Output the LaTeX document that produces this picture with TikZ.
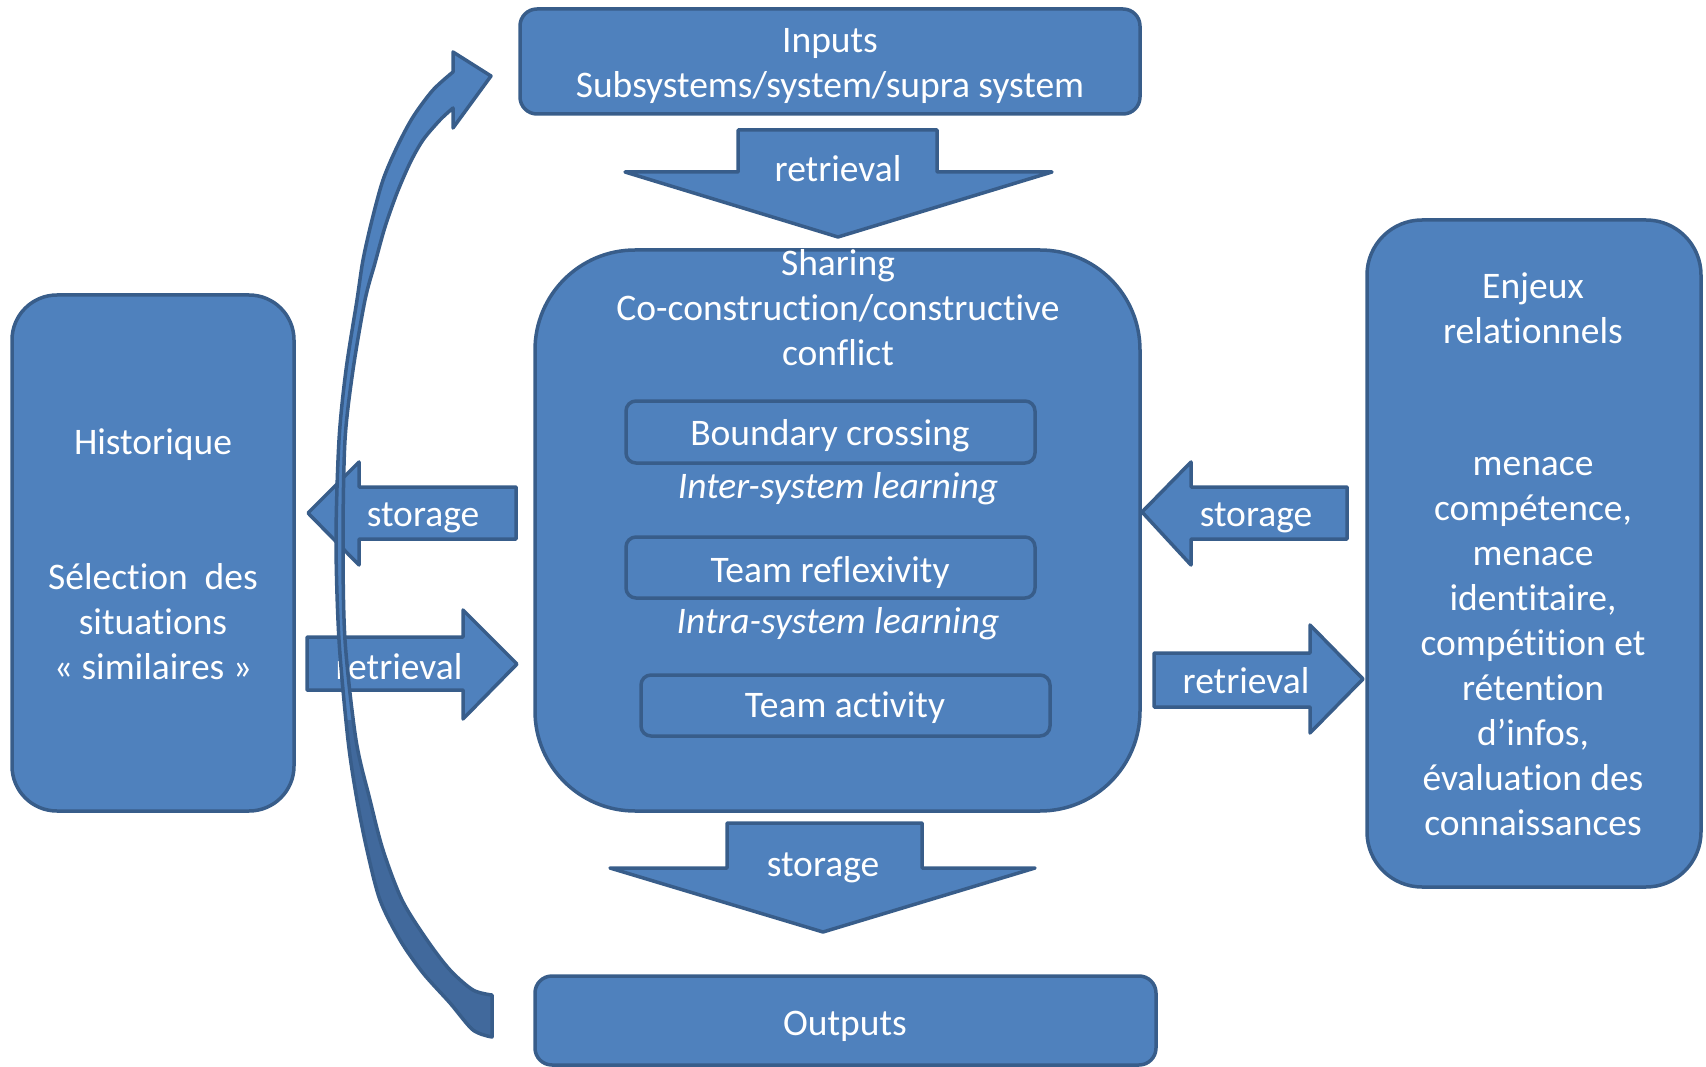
\documentclass[tikz,border=0pt]{standalone}
\usepackage{fontspec}
\setmainfont{Carlito}[Ligatures={NoCommon},Contextuals={NoAlternate}]
\definecolor{fillc}{HTML}{4F81BD}
\definecolor{linec}{HTML}{385D8A}
\definecolor{darkc}{HTML}{41699C}
\tikzset{
  shp/.style={fill=fillc, draw=linec, line width=3.5pt, line join=round},
  boxn/.style={shp, rectangle, inner sep=0pt},
  lbl/.style={text=white, font=\fontsize{37.5}{45}\selectfont, align=center, inner sep=0pt},
  ilbl/.style={lbl, font=\fontsize{37.5}{45}\selectfont\itshape},
}
\begin{document}
\begin{tikzpicture}[x=1pt,y=-1pt]
\useasboundingbox (0,0) rectangle (1706,1067);

% main boxes
\node[boxn, rounded corners=17, minimum width=620, minimum height=105] (inputs) at (830,61.5) {};
\node[boxn, rounded corners=100, minimum width=605, minimum height=561] (central) at (837.5,530.5) {};
\node[boxn, rounded corners=10, minimum width=409, minimum height=62] (bcross) at (830.5,432) {};
\node[boxn, rounded corners=10, minimum width=409, minimum height=61] (reflex) at (830.5,567.5) {};
\node[boxn, rounded corners=10, minimum width=409, minimum height=61] (activity) at (845.5,705.5) {};
\node[boxn, rounded corners=17, minimum width=621, minimum height=89] (outputs) at (845.5,1020.5) {};
\node[boxn, rounded corners=45, minimum width=282, minimum height=516] (hist) at (153,553) {};
\node[boxn, rounded corners=55, minimum width=334, minimum height=667] (enjeux) at (1534,553.5) {};

% block arrows
\path[shp] (738,130) -- (937,130) -- (937,172) -- (1052,172) -- (838,237) -- (625,172) -- (738,172) -- cycle;
\path[shp] (727,823) -- (922,823) -- (922,868) -- (1035,868) -- (823,932) -- (610,868) -- (727,868) -- cycle;
\path[shp] (516,487) -- (359,487) -- (359,462) -- (308,513) -- (359,565) -- (359,539) -- (516,539) -- cycle;
\path[shp] (307,637) -- (463,637) -- (463,610) -- (517,664) -- (463,719) -- (463,690) -- (307,690) -- cycle;
\path[shp] (1347,487) -- (1191,487) -- (1191,462) -- (1142,512) -- (1191,565) -- (1191,539) -- (1347,539) -- cycle;
\path[shp] (1154,653) -- (1310,653) -- (1310,625) -- (1363,679) -- (1310,733) -- (1310,707) -- (1154,707) -- cycle;

% texts
\node[lbl] (tinputs) at (830,66) {Inputs\\Subsystems/system/supra system};
\node[lbl] (tsharing) at (838,308) {Sharing\\Co-construction/constructive\\conflict};
\node[lbl] (tbcross) at (830,436) {Boundary crossing};
\node[ilbl] (tinter) at (838,489) {Inter-system learning};
\node[lbl] (treflex) at (830,572) {Team reflexivity};
\node[ilbl] (tintra) at (838,624) {Intra-system learning};
\node[lbl] (tactivity) at (845,708) {Team activity};
\node[lbl] (toutputs) at (845,1026) {Outputs};
\node[lbl] (thist) at (153,445) {Historique};
\node[lbl] (tsel) at (153,622) {Sélection\ \ des\\situations\\« similaires »};
\node[lbl] (tenj) at (1533,308) {Enjeux\\relationnels};
\node[lbl] (tmen) at (1533,647) {menace\\compétence,\\menace\\identitaire,\\compétition et\\rétention\\d’infos,\\évaluation des\\connaissances};
\node[lbl] (ar1) at (838,169) {retrieval};
\node[lbl] (ar2) at (823,868) {storage};
\node[lbl] (ar3) at (423,518) {storage};
\node[lbl] (ar4) at (399,667) {retrieval};
\node[lbl] (ar5) at (1256,518) {storage};
\node[lbl] (ar6) at (1246,681) {retrieval};

% curved arrow
\def\curvedpath{plot[smooth] coordinates {(453,72) (433,90) (413,117) (397,147) (383,180) (372,220) (363,260) (357,300) (346,370) (339,440) (336,540) (339,640) (348,740) (357,800) (367,850) (380,900) (400,940) (423,973) (450,1003) (473,1030) (492,1037)}
 -- plot[smooth] coordinates {(492,995) (473,990) (450,970) (427,940) (402,900) (383,850) (370,800) (356,740) (345,640) (343,540) (345,440) (353,370) (365,300) (375,263) (385,227) (397,193) (410,163) (423,140) (440,120) (453,108)}
 -- (453,128) -- (491,76) -- (453,52) -- cycle}
\fill[fillc] \curvedpath;
\begin{scope}
\clip (0,720) rectangle (600,1067);
\fill[darkc] \curvedpath;
\end{scope}
\draw[linec, line width=3.5pt, line join=round] \curvedpath;
\end{tikzpicture}
\end{document}
